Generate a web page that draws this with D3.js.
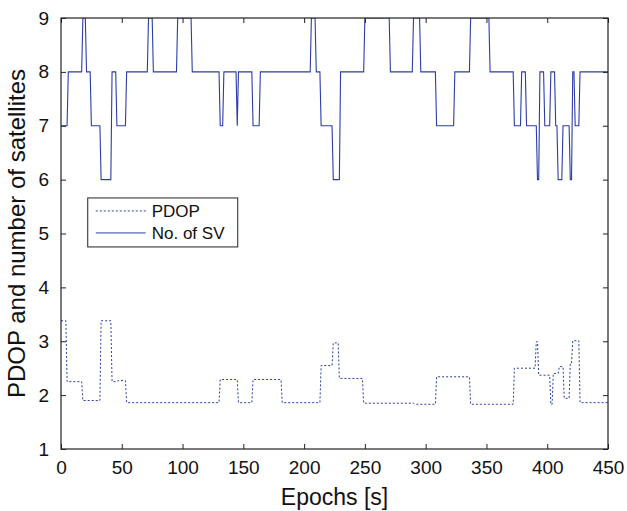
<!DOCTYPE html>
<html>
<head>
<meta charset="utf-8">
<script src="https://cdn.jsdelivr.net/npm/d3@7"></script>
<style>
  body { margin: 0; background: #fff; }
  text { font-family: "Liberation Sans", Arial, sans-serif; fill: #111; }
</style>
</head>
<body>
<div class="svg-container"></div>
<script>
//Data - epochs where a new level starts, and the level itself
const svEpochs = [0, 6, 18, 21, 25, 33, 42, 46, 54, 72, 76, 96, 108, 131, 134, 145, 146, 158, 164,
  206, 210, 214, 224, 230, 250, 271, 290, 296, 309, 324, 337, 353, 373, 379, 383, 392, 394,
  398, 403, 407, 409, 413, 419, 421, 423, 427];
const svCount = [7, 8, 9, 8, 7, 6, 8, 7, 8, 9, 8, 9, 8, 7, 8, 7, 8, 7, 8,
  9, 8, 7, 6, 8, 9, 8, 9, 8, 7, 8, 9, 8, 7, 8, 7, 6, 8,
  7, 8, 7, 6, 7, 6, 8, 7, 8];

const pdopEpochs = [0, 5, 18, 33, 42, 47, 54, 131, 146, 158, 182, 214, 224, 229, 249, 291, 309,
  337, 373, 391, 393, 403, 405, 410, 414, 419, 421, 427];
const pdopValue = [3.38, 2.25, 1.9, 3.38, 2.25, 2.27, 1.86, 2.29, 1.86, 2.29, 1.86, 2.55, 2.97, 2.31, 1.85, 1.83, 2.34,
  1.83, 2.5, 2.99, 2.37, 1.83, 2.4, 2.53, 1.94, 2.59, 3.01, 1.86];

const lastEpoch = 450;
const xTicks = [0, 50, 100, 150, 200, 250, 300, 350, 400, 450];
const yTicks = [1, 2, 3, 4, 5, 6, 7, 8, 9];
const legendNames = ['PDOP', 'No. of SV'];

//turn level changes into a line sampled once per second (1 s ramps like the original plot)
function toPoints(epochs, values) {
  const pts = [];
  epochs.forEach((t, i) => {
    const next = i < epochs.length - 1 ? epochs[i + 1] - 1 : lastEpoch;
    pts.push([t, values[i]]);
    if (next > t) pts.push([next, values[i]]);
  });
  return pts;
}

const margin = {top: 18, right: 19, bottom: 62, left: 61};
const width = 627 - margin.left - margin.right;
const height = 511 - margin.top - margin.bottom;
const lineColor = '#2b3ea6';

const xScale = d3.scaleLinear().domain([0, 450]).range([0, width]);
const yScale = d3.scaleLinear().domain([1, 9]).range([height, 0]);

const svg = d3.select('.svg-container')
  .append('svg')
  .attr('width', 627)
  .attr('height', 511)
  .append('g')
  .attr('transform', `translate(${margin.left}, ${margin.top})`);

const line = d3.line()
  .x(d => xScale(d[0]))
  .y(d => yScale(d[1]));

//clip so the level-9 line sits under the frame
svg.append('clipPath').attr('id', 'plot-clip')
  .append('rect').attr('width', width).attr('height', height);

const plot = svg.append('g').attr('clip-path', 'url(#plot-clip)');

plot.append('path')
  .datum(toPoints(pdopEpochs, pdopValue))
  .attr('fill', 'none')
  .attr('stroke', lineColor)
  .attr('stroke-width', 1)
  .attr('stroke-dasharray', '2,2')
  .attr('d', line);

plot.append('path')
  .datum(toPoints(svEpochs, svCount))
  .attr('fill', 'none')
  .attr('stroke', lineColor)
  .attr('stroke-width', 1.1)
  .attr('d', line);

//Axes - ticks point inwards, box on all four sides
const xAxis = d3.axisBottom(xScale).tickValues(xTicks).tickSize(-5).tickPadding(12);
const yAxis = d3.axisLeft(yScale).tickValues(yTicks).tickSize(-5).tickPadding(12);

const xAxisDraw = svg.append('g')
  .attr('class', 'x axis')
  .attr('transform', `translate(0, ${height})`)
  .call(xAxis);

const yAxisDraw = svg.append('g')
  .attr('class', 'y axis')
  .call(yAxis);

svg.append('g')
  .call(d3.axisTop(xScale).tickValues(xTicks).tickSize(-5).tickFormat(''));
svg.append('g')
  .attr('transform', `translate(${width}, 0)`)
  .call(d3.axisRight(yScale).tickValues(yTicks).tickSize(-5).tickFormat(''));

svg.selectAll('.domain').remove();
svg.selectAll('.tick line').attr('stroke', '#222');
svg.selectAll('.tick text').style('font-size', '19px').attr('fill', '#111');

svg.append('rect')
  .attr('width', width)
  .attr('height', height)
  .attr('fill', 'none')
  .attr('stroke', '#222')
  .attr('stroke-width', 1.2);

//Axis labels
svg.append('text')
  .attr('x', width / 2)
  .attr('y', height + 56)
  .attr('text-anchor', 'middle')
  .style('font-size', '23px')
  .text('Epochs [s]');

svg.append('text')
  .attr('transform', `translate(${-36}, ${height / 2}) rotate(-90)`)
  .attr('text-anchor', 'middle')
  .style('font-size', '24px')
  .text('PDOP and number of satellites');

//Legend
const legend = svg.append('g')
  .attr('transform', `translate(${xScale(22)}, ${yScale(5.66)})`);

legend.append('rect')
  .attr('width', 150)
  .attr('height', 49)
  .attr('fill', '#fff')
  .attr('stroke', '#222');

legendNames.forEach((name, i) => {
  const ly = 13 + i * 22;
  legend.append('line')
    .attr('x1', 8).attr('x2', 58)
    .attr('y1', ly).attr('y2', ly)
    .attr('stroke', lineColor)
    .attr('stroke-width', 1)
    .attr('stroke-dasharray', i === 0 ? '2,2' : null);
  legend.append('text')
    .attr('x', 64)
    .attr('y', ly + 6)
    .style('font-size', '17px')
    .text(name);
});
</script>
</body>
</html>
